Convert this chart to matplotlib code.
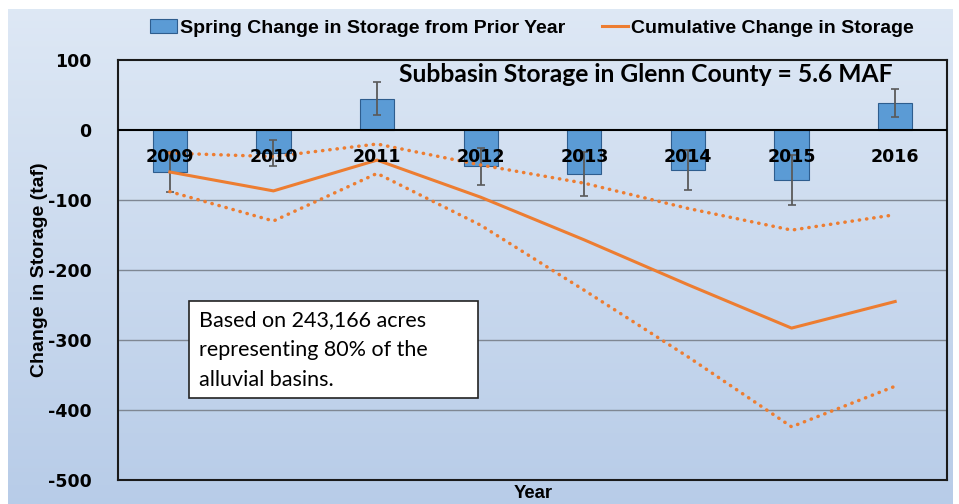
import numpy as np
import matplotlib.pyplot as plt
from matplotlib.patches import Rectangle, Patch
from matplotlib.lines import Line2D

years = ["2009", "2010", "2011", "2012", "2013", "2014", "2015", "2016"]
spring_change = [-60, -33, 45, -52, -63, -57, -71, 38]
spring_err = [28, 19, 23, 26, 31, 29, 36, 20]
cumulative = [-60, -87, -43, -96, -157, -221, -283, -245]
cumulative_upper = [-33, -38, -20, -50, -76, -112, -143, -121]
cumulative_lower = [-88, -130, -62, -136, -229, -324, -424, -366]
y_ticks = [100, 0, -100, -200, -300, -400, -500]

W, H = 959, 504
fig = plt.figure(figsize=(W / 100, H / 100), dpi=100)
fig.patch.set_facecolor("white")

# blue gradient panel behind the chart
bg = fig.add_axes([8 / W, 0, 1 - 14 / W, 1 - 9 / H], zorder=-10)
grad = np.linspace(0, 1, 256).reshape(-1, 1)
c_top = np.array([0.87, 0.91, 0.96])
c_bot = np.array([0.72, 0.80, 0.91])
img = c_top[None, None, :] * (1 - grad[:, :, None]) + c_bot[None, None, :] * grad[:, :, None]
bg.imshow(img, aspect="auto", extent=[0, 1, 0, 1], origin="upper")
bg.set_axis_off()

left, right, top, bottom = 118, 947, 60, 480
ax = fig.add_axes([left / W, 1 - bottom / H, (right - left) / W, (bottom - top) / H])
ax.patch.set_alpha(0)

x = np.arange(len(years))
orange = "#ed7d31"
bar_color = "#5b9bd5"

for yv in [-100, -200, -300, -400]:
    ax.axhline(yv, color="#7f8793", lw=1.0, zorder=1)
ax.axhline(0, color="black", lw=1.5, zorder=4)

ax.bar(x, spring_change, width=0.33, color=bar_color, edgecolor="#2e5d8e",
       linewidth=0.8, zorder=2)
ax.errorbar(x, spring_change, yerr=spring_err, fmt="none", ecolor="#5a5a5a",
            elinewidth=1.3, capsize=3, capthick=1.2, zorder=3)

dots = (0, (0.1, 2.0))
ax.plot(x, cumulative, color=orange, lw=2.2, zorder=5)
ax.plot(x, cumulative_upper, color=orange, lw=2.5, linestyle=dots,
        dash_capstyle="round", zorder=5)
ax.plot(x, cumulative_lower, color=orange, lw=2.5, linestyle=dots,
        dash_capstyle="round", zorder=5)

for xi, yr in zip(x, years):
    ax.text(xi, -38, yr, ha="center", va="center", fontsize=12.5,
            fontweight="bold", family="DejaVu Sans", zorder=6)

ax.set_xlim(-0.5, len(years) - 0.5)
ax.set_ylim(-500, 100)
ax.set_xticks([])
ax.set_yticks(y_ticks)
ax.set_yticklabels([str(v) for v in y_ticks], fontsize=12.5, fontweight="bold",
                   family="DejaVu Sans")
ax.tick_params(axis="y", length=0, pad=19)
for s in ax.spines.values():
    s.set_color("#1a1a1a")
    s.set_linewidth(1.5)

fig.text(40 / W, 1 - 270 / H, "Change in Storage (taf)", rotation=90,
         ha="center", va="center", fontsize=14, fontweight="bold",
         family="Liberation Sans")
fig.text(533 / W, 1 - 494 / H, "Year", ha="center", va="center",
         fontsize=13.3, fontweight="bold", family="Liberation Sans")

ax.text((893 - left) / (right - left), (bottom - 75) / (bottom - top),
        "Subbasin Storage in Glenn County = 5.6 MAF",
        transform=ax.transAxes, ha="right", va="center", fontsize=17.7,
        fontweight="bold", family="Lato", zorder=6)

# note box
bx0, bx1, by0, by1 = 189, 478, 301, 398
ax.add_patch(Rectangle(((bx0 - left) / (right - left), (bottom - by1) / (bottom - top)),
                       (bx1 - bx0) / (right - left), (by1 - by0) / (bottom - top),
                       transform=ax.transAxes, facecolor="white",
                       edgecolor="#222222", linewidth=1.2, zorder=7))
ax.text((199 - left) / (right - left), (bottom - 350) / (bottom - top),
        "Based on 243,166 acres\nrepresenting 80% of the\nalluvial basins.",
        transform=ax.transAxes, ha="left", va="center", fontsize=15.5,
        family="Lato", linespacing=1.6, zorder=8)

handles = [Patch(facecolor=bar_color, edgecolor="#2e5d8e", linewidth=0.8),
           Line2D([], [], color=orange, lw=2.2)]
labels = ["Spring Change in Storage from Prior Year", "Cumulative Change in Storage"]
fig.legend(handles, labels, loc="center", bbox_to_anchor=(532 / W, 1 - 28 / H),
           ncol=2, frameon=False, handlelength=1.35, handleheight=0.7,
           handletextpad=0.15, columnspacing=1.9,
           prop={"family": "Liberation Sans", "weight": "bold", "size": 14})

fig.savefig("out.png", dpi=100)
